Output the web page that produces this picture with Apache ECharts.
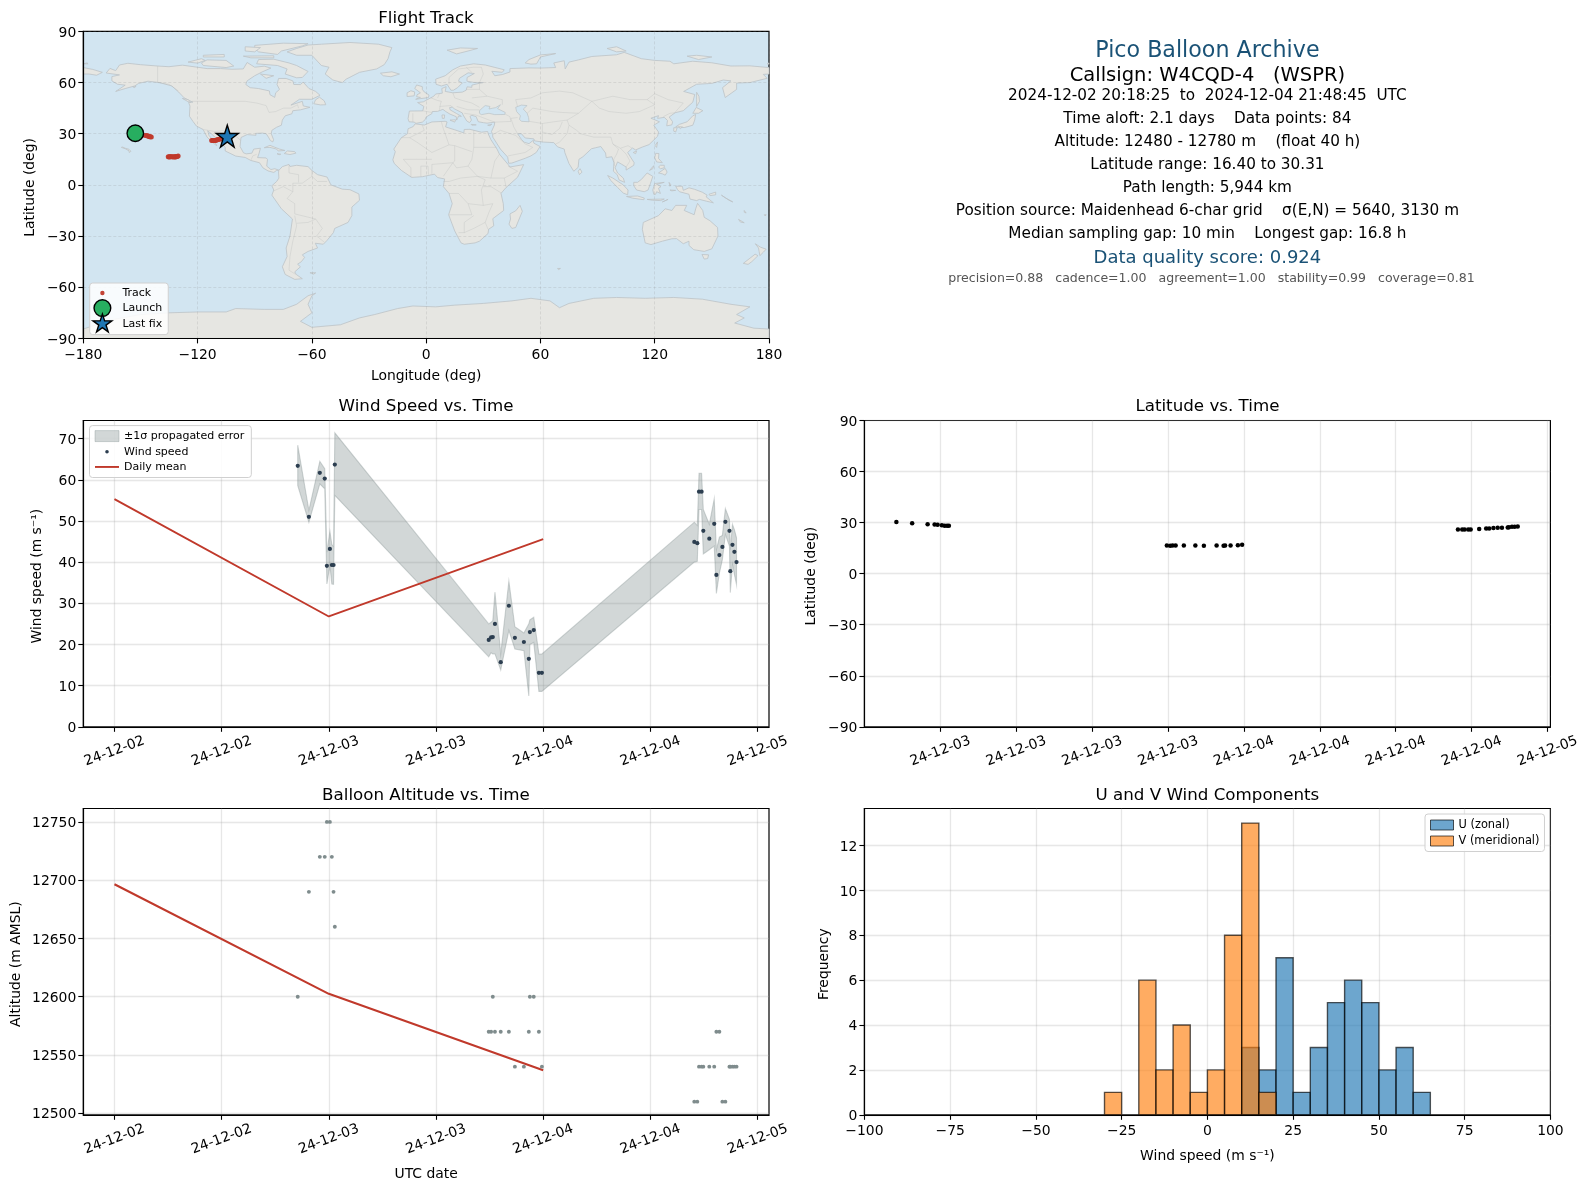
<!DOCTYPE html>
<html><head><meta charset="utf-8">
<style>html,body{margin:0;padding:0;background:#fff}#c{width:1589px;height:1189px}</style>
<script src="https://cdn.jsdelivr.net/npm/echarts@6/dist/echarts.min.js"></script>
</head><body><div id="c"></div>
<script>
// ---------- data (days since 2024-12-02 00:00 UTC) ----------
const windDays=[0.855,0.907,0.958,0.981,0.991,1.005,1.014,1.022,1.028,1.746,1.757,1.765,1.775,1.802,1.840,1.868,1.910,1.933,1.938,1.956,1.980,1.994,2.705,2.719,2.727,2.739,2.747,2.775,2.798,2.808,2.822,2.836,2.850,2.869,2.873,2.883,2.892,2.902];
const windSpeed=[63.4,51.0,61.7,60.3,39.1,43.2,39.3,39.3,63.7,21.1,21.7,21.8,25.0,15.7,29.4,21.6,20.6,16.5,23.0,23.5,13.1,13.1,44.9,44.6,57.1,57.1,47.6,45.7,49.3,36.9,41.7,43.7,49.8,47.6,37.8,44.2,42.5,40.0];
const windUpper=[68.4,52.6,64.5,62.7,42.4,47.5,44.3,43.8,71.4,25.0,25.4,25.8,32.7,17.7,35.4,24.3,22.8,25.0,26.0,26.6,17.7,17.7,49.7,48.9,61.6,61.6,52.8,49.2,55.4,43.0,46.1,46.5,53.0,50.4,43.0,49.2,47.9,45.9];
const windLower=[58.6,49.7,59.0,57.8,34.7,39.2,34.7,34.6,56.2,17.0,18.0,17.7,17.7,13.8,23.4,18.9,18.5,7.5,20.0,20.5,8.6,8.6,40.0,40.2,52.8,52.8,42.0,43.0,43.9,32.4,37.3,40.6,46.7,43.9,32.6,39.4,37.0,34.5];
const altitude=[12600,12690,12720,12720,12750,12750,12720,12690,12660,12570,12570,12600,12570,12570,12570,12540,12540,12570,12600,12600,12570,12540,12510,12510,12540,12540,12540,12540,12540,12570,12570,12510,12510,12540,12540,12540,12540,12540];
const latitude=[30.31,29.6,29.0,28.9,28.7,28.5,28.2,28.2,28.1,16.5,16.4,16.5,16.5,16.5,16.5,16.4,16.5,16.4,16.5,16.5,16.7,17.0,26.0,26.0,26.0,26.0,26.0,26.2,26.5,26.6,26.8,27.0,27.0,27.1,27.3,27.5,27.6,27.7];
const longitude=[-152.7,-149.8,-147.5,-146.7,-146.2,-145.7,-145.2,-144.8,-144.3,-135.4,-135.0,-134.6,-134.3,-133.8,-133.2,-132.8,-132.2,-131.8,-131.6,-131.2,-130.7,-130.2,-112.6,-112.1,-111.6,-111.2,-110.8,-110.2,-109.7,-109.2,-108.6,-108.0,-107.5,-106.8,-106.4,-105.7,-105.1,-104.5];
const meanDays=[0,1,2];
const meanWind=[55.3,26.8,45.6];
const meanAlt=[12696.5,12602.5,12537];
const launchPoint=[-152.7,30.3];
const lastFixPoint=[-104.4,27.7];
const histEdges=[-30,-25,-20,-15,-10,-5,0,5,10,15,20,25,30,35,40,45,50,55,60,65];
const histU=[0,0,0,0,0,0,0,0,3,2,7,1,3,5,6,5,2,3,1];
const histV=[1,0,6,2,4,1,2,8,13,1,0,0,0,0,0,0,0,0,0];
// ---------- ticks ----------
const lonTicks=[-180,-120,-60,0,60,120,180];
const latTicks=[-90,-60,-30,0,30,60,90];
const windTimeTicks=[0,0.5,1,1.5,2,2.5,3];
const windTimeLabels=['24-12-02','24-12-02','24-12-03','24-12-03','24-12-04','24-12-04','24-12-05'];
const latTimeTicks=[1,1.25,1.5,1.75,2,2.25,2.5,2.75,3];
const latTimeLabels=['24-12-03','24-12-03','24-12-03','24-12-03','24-12-04','24-12-04','24-12-04','24-12-04','24-12-05'];
const windTicks=[0,10,20,30,40,50,60,70];
const altTicks=[12500,12550,12600,12650,12700,12750];
const histXTicks=[-100,-75,-50,-25,0,25,50,75,100];
const histYTicks=[0,2,4,6,8,10,12];
// ---------- text ----------
const panelTitles=['Flight Track','Wind Speed vs. Time','Latitude vs. Time','Balloon Altitude vs. Time','U and V Wind Components'];
const infoLines=[
 ['Pico Balloon Archive',22.2,'#1a5276',53.5,1207.4],
 ['Callsign: W4CQD-4   (WSPR)',19.5,'#000',77,1207.4],
 ['2024-12-02 20:18:25  to  2024-12-04 21:48:45  UTC',15.25,'#000',97.3,1207.4],
 ['Time aloft: 2.1 days    Data points: 84',15.25,'#000',120.6,1207.4],
 ['Altitude: 12480 - 12780 m    (float 40 h)',15.25,'#000',143.5,1207.4],
 ['Latitude range: 16.40 to 30.31',15.25,'#000',166.6,1207.4],
 ['Path length: 5,944 km',15.25,'#000',189.8,1207.4],
 ['Position source: Maidenhead 6-char grid    σ(E,N) = 5640, 3130 m',15.25,'#000',212.8,1207.4],
 ['Median sampling gap: 10 min    Longest gap: 16.8 h',15.25,'#000',235.5,1207.4],
 ['Data quality score: 0.924',18,'#1a5276',259.5,1207.4],
 ['precision=0.88   cadence=1.00   agreement=1.00   stability=0.99   coverage=0.81',12.55,'#555',279.7,1211.5]
];
// ---------- map outlines (lon,lat) ----------
const landPolygons=[
[[-168,65.6],[-166,68.3],[-163,67],[-161,70.3],[-156.6,71.3],[-150,70.5],[-141,69.7],[-135,69.3],[-128,70.2],[-124,69.6],[-115,68.2],[-108,68.2],[-102,67.8],[-96,68],[-94,71.8],[-90,69],[-85,69.6],[-81.5,68.5],[-86,66.3],[-90,64],[-94,61],[-94.7,58.9],[-92.4,57],[-88,56.5],[-82.3,55.1],[-82,52.9],[-79.5,51.3],[-79,54],[-77,56],[-78.3,58.8],[-77.5,62.4],[-73.5,62.4],[-70,61],[-69.5,58.9],[-66,58.8],[-64.6,60.3],[-61.5,56.5],[-58,54.8],[-55.7,52.5],[-60,50.2],[-66.5,50.2],[-71,46.8],[-65,49],[-64.5,46.3],[-61,45.5],[-66,44],[-70,43.5],[-70.5,41.7],[-74,40.5],[-75.5,38],[-76,35],[-78.5,33.8],[-81,32],[-81.3,30],[-80.1,26.5],[-80.5,25.2],[-81.8,26],[-82.8,28],[-84,30],[-86,30.4],[-89.5,30.2],[-89.3,29.1],[-94,29.5],[-97.2,27.8],[-97.7,22.5],[-95.9,18.8],[-94.5,18.2],[-91.5,18.6],[-90.5,21],[-87,21.5],[-87.8,18.2],[-88.5,16],[-84,15.8],[-83.3,14.9],[-83.7,11],[-81.5,9],[-79.5,9.5],[-77.3,8.6],[-78.5,8.5],[-80,7.3],[-83,8.2],[-85.7,10],[-87.5,13],[-92,14.3],[-95,16.1],[-100,16.9],[-105.5,19.9],[-105.5,22],[-109,26],[-112.8,30],[-114.7,31.7],[-114,29],[-110,23.5],[-110,23],[-112,24.8],[-115,28],[-117.1,32.5],[-120.6,34.5],[-122.4,37.2],[-124.3,40.3],[-124,46.2],[-124.7,48.4],[-122.5,48.5],[-127,51],[-130,54.5],[-133.5,58],[-140,60],[-146,60.8],[-151,59.5],[-153,58],[-158,56.5],[-163,54.8],[-158,58.5],[-162,59],[-165,61],[-165,63.5],[-161,64.5]],
[[-77.3,8.6],[-75.5,10.7],[-72,12],[-71.5,10.8],[-68,11.5],[-62,10.7],[-60,8.5],[-57,6],[-52,4.6],[-50,0],[-44,-2.5],[-40,-2.8],[-35.3,-5.3],[-35,-9],[-39,-13],[-39,-18],[-41,-22],[-48,-25.5],[-48.7,-28],[-52,-32.5],[-54,-34.8],[-58.2,-34.2],[-57,-37],[-62,-39],[-65,-41],[-63.8,-42.5],[-65.5,-45],[-67.5,-46.5],[-66,-48],[-69,-51],[-68.2,-52.5],[-65,-55],[-69,-55.4],[-74,-52.5],[-75.5,-48],[-73,-42],[-73.5,-37],[-71.5,-30],[-70.2,-20],[-76,-14],[-81,-6],[-80,-3],[-81,-0.5],[-78.5,2],[-77.3,4],[-77.5,7.5]],
[[-5.8,35.8],[-1,35.1],[3,36.9],[10,37.3],[11,36.9],[10.2,34],[15,32.3],[19.8,30.5],[20,32.5],[23,32.6],[29,30.9],[32.3,31.3],[32.6,29.9],[34,26.5],[37.2,21],[38.5,18],[43,12],[44,10.5],[51.2,11.9],[48,4.5],[42,-1.5],[39.3,-5],[40.5,-11],[40.7,-15],[35,-19.8],[35.5,-24],[32.8,-26],[32.5,-28.5],[28,-33],[25.7,-34],[20,-34.8],[18.3,-34],[15,-27],[11.8,-17.5],[13.7,-11],[12,-5],[9,-1],[9.7,3.5],[6,4.3],[4.4,6.3],[-2,4.8],[-7.6,4.4],[-13,8.5],[-16.7,12.5],[-17.5,14.7],[-16.2,19.5],[-17,21],[-13,27.7],[-9.8,30],[-9.5,32.9],[-6.8,34.2]],
[[-9,37],[-9.5,38.8],[-8.8,43.3],[-1.8,43.4],[-1.2,46],[-4.5,48.3],[-1.5,48.7],[1.5,50.5],[4,52],[5,53.3],[8.5,53.8],[8.2,56.5],[10.5,57.6],[10,54.8],[14,54],[19,54.4],[21,55.5],[21.5,57.5],[24,57.2],[24,58.5],[28,59.6],[30,60],[25,60.1],[21.4,60.8],[21.5,63],[25.3,65.3],[22,65.7],[17.5,62.5],[17,60.8],[19,59.8],[16.5,57],[14.3,55.5],[13,55.5],[11,59],[8,58],[5.2,59],[5,62],[10,64],[14,67.5],[18,69.7],[25,71],[31,70.3],[41,67.5],[40,66],[34.5,66.6],[36,64],[40,64.7],[44,66.2],[44,68.2],[54,68.6],[60,68.5],[68,68.8],[67,71.5],[72.5,72.8],[73,68],[75,72],[80,73.3],[87,75.3],[100,76.3],[104,77.7],[113,74],[120,73],[128,72.5],[130,71],[140,72.5],[150,71.6],[160,69.7],[170,69.8],[180,68.8],[180,65],[177,64.8],[179,62.5],[170,60],[163,59.7],[163,56],[157,51.2],[155.6,57],[160,61],[156,61.5],[150,59.5],[142,59],[135.2,54.8],[141,53],[140,48.5],[135,43.5],[130.7,42.3],[127.6,39.8],[129.4,37],[129,35.2],[126.3,34.6],[126.7,37.8],[125,39.6],[121.5,39],[122,40.6],[118,39.1],[122.5,37],[119.5,35],[122,31],[121.5,28.5],[117,23.6],[113.5,22.2],[110,20.5],[108.3,21.6],[105.8,19],[109.2,13],[109,11.5],[105,8.7],[105,10.5],[102.5,12.2],[100.5,13.5],[99.2,10],[100.5,7],[103.5,4],[104.2,1.5],[101.3,2.9],[100.3,6],[98.3,8],[98.6,13],[97.5,16.5],[94.5,16],[94.2,18.7],[91.7,22.5],[89,21.8],[86.8,21.2],[82.3,16.5],[80.2,15],[79.8,10.3],[77.5,8],[75,12.5],[72.8,19],[72.5,21],[69,22.3],[67,24.8],[61.5,25.1],[57,25.8],[56.5,27],[52,27.5],[50,30],[48,30],[50,26.7],[51.5,25],[54,24.2],[56.3,26.2],[56.5,24.5],[59.8,22.5],[57.8,19],[55,17],[52,15.6],[45,12.8],[43.3,12.7],[42.8,16.3],[39,21],[35,28],[34.9,29.5],[34.3,31.3],[35.8,35],[36,36.8],[32,36.2],[30,36.5],[27.4,37],[26.5,39.3],[26.3,40],[24,40.8],[23,40.2],[23.8,38],[22.8,36.5],[21.3,37.5],[19.4,41],[19,42.2],[15,44.5],[13.7,45.6],[12.3,45.3],[12.6,44],[16,41.8],[18.5,40.2],[17,40.4],[16.5,39],[16,38],[15.8,40],[12.5,41.5],[10.3,43],[8.8,44.3],[6,43.1],[3.2,43],[3,41.8],[0,39.8],[-0.5,38.3],[-2,36.8],[-5.3,36.1],[-6.3,36.8]],
[[114,-22],[113.5,-26],[115,-34],[118,-35],[124,-33],[129,-31.6],[131.5,-31.5],[135,-34.5],[138,-33],[138,-35.5],[140.5,-38],[146,-39],[150,-37.5],[153.2,-30],[153,-25],[149,-21],[146,-19],[145.2,-15],[142.5,-10.8],[141.5,-14],[140.7,-17.5],[135.5,-15],[136.8,-12],[131,-12],[129,-15],[125.5,-14],[122,-18],[117,-20.5]],
[[-73,78],[-68,76],[-60,76],[-55,70],[-51,69],[-53,65],[-49,61.5],[-44,60],[-42,62],[-35,66],[-26,68],[-22,70.5],[-20,74],[-19,78],[-18,80.5],[-25,82.5],[-40,83.5],[-55,82.5],[-62,82],[-68,80]],
[[-180,-90],[-180,-84.5],[-165,-79],[-150,-76],[-135,-75],[-120,-74.5],[-105,-74.5],[-100,-72.5],[-85,-73],[-75,-73],[-68,-70],[-62,-65],[-58,-63.5],[-60,-65],[-62,-70],[-60,-75],[-66,-80],[-60,-83.5],[-45,-82],[-35,-78],[-27,-76],[-15,-72.5],[-7,-71],[5,-71.5],[15,-70.5],[30,-69.5],[45,-68],[55,-66.5],[65,-68],[70,-72],[75,-69.5],[88,-66.5],[100,-66],[115,-66.5],[130,-66],[145,-67],[160,-70],[170,-71.5],[163,-76],[167,-78],[162,-81],[172,-84],[180,-84.5],[180,-90]],
[[-80,73.7],[-72,71.5],[-68,70],[-62,66.5],[-65,63],[-68,62.8],[-74,65],[-73,68],[-78,70],[-89,71],[-88,73.5]],
[[-117,70],[-105,68.8],[-101,69.7],[-105,73],[-115,73.3],[-118,71.5]],
[[-125,72],[-118,74],[-116,73],[-120,71.4]],
[[-90,80],[-88,78],[-78,76.5],[-76,78.5],[-65,81.5],[-62,82.8],[-75,83.1],[-90,81.8]],
[[-96,75.5],[-80,75.7],[-80,74.5],[-92,74.5]],[[-117,76],[-106,76.5],[-106,75],[-117,75]],[[-95,81],[-87,80.5],[-90,78],[-95,78.5]],
[[-87,65],[-80,64],[-84,62.5]],
[[-59,47.6],[-55.5,46.9],[-52.7,47],[-53.5,49.3],[-56,51.4],[-58,50]],
[[-85,21.8],[-82,23.2],[-77,21],[-74.2,20.2],[-77.7,19.9],[-78.5,21],[-82,22]],
[[-74.5,18.4],[-72.8,19.9],[-69,19.5],[-68.4,18.6],[-71.5,17.8]],
[[-78.3,18.3],[-76.3,18],[-77.2,17.7]],
[[-24,65.5],[-18,66.3],[-14,65],[-18.5,63.4],[-22.5,64]],
[[-5.5,50.2],[1.2,51.2],[1.5,52.7],[-1,54.5],[-2,56],[-2,57.6],[-5,58.6],[-6,56.5],[-3,54],[-4.8,52.8],[-5,51.7],[-3,51.3]],
[[-10,51.8],[-6.3,52.2],[-6,54.5],[-8,55.2],[-10,54]],
[[11,79],[16,76.8],[22,78.5],[27,80],[18,80.3]],
[[52,71.5],[55,70.8],[58,71],[60,75],[68,77],[60,76.2],[54,73.5]],
[[142,54.3],[143.2,52],[143.5,49],[142,46],[142,50]],
[[140,42],[141.8,45.4],[145.3,43.5],[143,42]],
[[131,34],[135.5,33.6],[140,35],[141,38],[141.5,41.3],[140,40.5],[137,37],[133,35.5]],
[[130,33.5],[131.8,33.5],[131,31],[130,31.5]],[[132.5,34],[134.5,34],[133.5,33]],
[[120.2,23],[121.5,25.2],[121,22]],[[108.7,19],[110.5,20],[110,18.3]],
[[79.8,8],[80.8,9.5],[81.8,7.5],[80.5,6]],
[[120,16],[120.5,18.5],[122.2,18.4],[122,15.5],[124,13],[121,13.5]],
[[122,7],[125.5,9.7],[126.5,7.5],[125.5,5.7],[124,6.5]],
[[122,10.5],[123,11.5],[125,11.5],[125,10],[123,9.5]],[[117.3,8.5],[119.5,11.3],[119,9.5]],
[[109,1.5],[111,1.5],[113,3.2],[116,7],[119,5],[117.8,1],[116.5,-3],[114.5,-4],[110.5,-3],[109,-0.5]],
[[95.3,5.5],[98,4],[103.5,0],[106,-3],[105.8,-5.8],[103.5,-4.8],[100.5,-1.5],[97,2.5]],
[[105.2,-6.8],[108.5,-6.6],[111,-6.5],[114.5,-7.7],[114.3,-8.7],[108.5,-7.8]],
[[119.5,-5.5],[119,-3],[120,0.8],[125,1.5],[121,0.3],[123.3,-1],[122,-2],[123,-5],[121,-4],[120.5,-5.5]],
[[116,-8.5],[120,-8.4],[125,-8.3],[123,-9.2],[119,-9]],[[124,-10],[127,-8.5],[125,-9.5]],[[127.5,1.5],[128.5,0],[128,-0.8]],[[128,-3],[131,-3.2],[129,-3.5]],
[[131,-0.8],[134.5,-0.8],[135,-3.2],[138,-1.7],[141,-2.6],[145,-4.3],[147.5,-6],[147,-7],[150.8,-10.5],[147,-9.5],[143.5,-8.5],[142,-9.2],[138.5,-8.3],[138,-5.5],[133,-4],[132,-2.8]],
[[148.5,-5.5],[152,-4.2],[152,-5.8],[149,-6.3]],[[155,-6],[157,-7.5],[161,-10],[159,-9]],[[167,-15],[168,-16.5],[167,-16]],[[164,-20.2],[167,-22.2],[165,-21.8]],[[177.5,-17.5],[178.5,-17.5],[178,-18.2]],
[[144.8,-40.8],[148.3,-41],[147.8,-43.2],[146,-43.5]],
[[172.8,-34.5],[175.5,-36.5],[178.5,-37.7],[177,-39.5],[175.2,-41.5],[174.8,-39],[174.5,-37]],
[[172.7,-40.6],[174.2,-41.5],[171,-45],[169,-46.6],[166.5,-46],[170,-43]],
[[49.3,-12],[50.5,-15.5],[47,-25],[45,-25.5],[43.5,-23],[44.3,-20],[44,-17],[47,-15.2]],
[[69,-49],[70.5,-49],[69.5,-49.7]],[[-61,-51.5],[-58,-51.5],[-59,-52.3]],
[[-160,22],[-159.3,22.2],[-158,21.5],[-156,20.9],[-155,19.7],[-155.9,19],[-156,20],[-158,21.2]],
[[12.5,38],[15.5,38.2],[15,36.8]],[[8.3,41],[9.7,41],[9.5,39],[8.5,39]],[[23.6,35.5],[26.3,35.2],[24,35]],[[32.3,35],[34.5,35.6],[33.5,34.7]],
[[95,80],[100,81],[105,78.5],[100,78]],[[137,75.5],[142,76],[150,75],[143,73.5]],[[179,71],[180,71.5],[180,70.8]],
[[-180,68.8],[-175,67.7],[-170,66],[-173,64.3],[-177,65],[-180,65]],[[-180,71],[-178,71.5],[-177.5,71]],
[[-154,57.5],[-152.3,58],[-153,57]],[[-128,50.7],[-125,50],[-123.5,48.4],[-125,48.8]]
];
const waterPolygons=[
[[28,42],[28,43.5],[29.7,45.3],[31,46.5],[33.5,46],[33,44.5],[35,45],[36.5,45.3],[39,47],[37.5,44.7],[41.5,42.5],[41.3,41.3],[36,41.2],[33,42],[29,41.2]],
[[47,45.5],[50,46.8],[53,46.5],[51,44.5],[53,42],[53.8,39.5],[54,37],[50,37.3],[49,38.5],[49.5,40.5],[47.5,43]]
];
const borderLines=[
[[-123,49],[-95,49],[-89,48],[-84,46.5],[-82.5,42.5],[-79,43],[-75,45],[-71,45],[-67.5,47],[-67,45]],[[-141,69.7],[-141,60],[-135,59],[-130,55]],
[[-117,32.5],[-111,31.3],[-106.5,31.8],[-103,29],[-101,29.7],[-97.3,26]],[[-92,14.5],[-91,17],[-89,17.9]],
[[-60,5],[-65,1],[-70,1],[-70,-4],[-73,-8],[-69,-11],[-69,-17],[-58,-20],[-54.5,-25.5],[-57.5,-30],[-53.5,-33.5]],[[-69,-18],[-68,-24],[-70,-33],[-71.5,-42],[-72,-50],[-68.5,-52.5]],[[-68,-22.5],[-62,-22],[-58,-20]],[[-72,11.5],[-72,7],[-67,6],[-67,1.5]],[[-80,-3.5],[-75,-1],[-70,-4]],[[-60,8.5],[-60,5],[-57,2],[-52,2]],
[[-13,27.7],[-8.7,27.7]],[[-2,35],[-1,32],[-8.7,27.7],[-4.8,25],[3,19],[12,23.5],[10,30],[9,33],[8,37]],[[25,32],[25,22],[37,22]],[[25,22],[24,15],[22,11],[27,5],[34,4],[36,14],[38.5,18]],[[15,23],[24,19.5]],[[12,23.5],[15,23],[15,14],[14,13],[16,10],[22,11]],[[3,6.5],[3,12],[14,13]],[[14,13],[9,5]],[[-12,15],[-5,15],[3,15]],[[-8,4.5],[-8,10],[-12,15]],[[-2.8,5],[-2.8,11],[1,11],[1.2,6]],[[12,-5],[17,-5],[22,-11],[30,-12],[29,-3],[31,3],[27,5],[18,4],[12,2],[9,2]],[[12,-17.5],[24,-17.5],[22,-11]],[[17,-28],[20,-28],[20,-22],[25,-18]],[[20,-28],[25,-25.5],[31,-22],[32.5,-26]],[[35,-11],[30,-12]],[[35,-11],[33,-16],[31,-22]],[[30,-1],[34,-1],[39.5,-4.8]],[[34,4],[41,4],[42,-1.5]],[[41,4],[48,8],[43,11]],
[[28,60],[28,56],[32,52],[40,50],[40,47]],[[48,46],[47,50],[55,51],[61,54],[70,55],[77,54],[83,51],[87,49]],[[53,42],[56,45],[66,43],[71,42.5],[80,42],[83,45],[87,49]],[[87,49],[98,52],[107,50],[116,50],[120,47],[112,43],[105,42],[96,43],[91,45],[87,49]],[[116,50],[120,53.5],[127,50],[135,48],[131,43],[130.7,42.3]],[[74,38],[80,42]],[[74,38],[75,35],[79,32],[81,30],[88,28],[97,28],[98,24],[102,21.5],[106,23],[108,21.6]],[[75,35],[74,30],[70,25],[68,24]],[[61,25],[61,31],[61,36],[54,37.3]],[[48,30],[46,34],[44.5,39],[48,39.5]],[[61,36],[67,37],[74,38]],[[61,31],[66,29.5],[70,33],[71.5,37]],[[26,41],[36,36.8],[44.5,37.2],[44,40],[41.5,41.5]],[[35,29.5],[39,32],[47,29],[52,24],[56,22],[52,19],[43,17]],[[98,24],[101,21],[100,18],[98.5,15],[99,11]],[[102,21.5],[105,18],[107,14],[105,10.5]],[[124.5,40],[128,42],[130.7,42.3]],
[[-1.8,43.4],[3,42.5]],[[-7,42],[-7,37]],[[2.5,51],[6,49.5],[8,49],[7.5,47.5],[7,44]],[[14,54],[15,51],[19,49.5],[24,48]],[[6,51],[7,53.5]],[[7,46],[13,46.5],[13.7,45.6]],[[16,46],[22,44],[28,44]],[[24,48],[28,45.5]],[[20,42],[26,41]],[[24,51],[32,52]],[[28,56],[21,56]],[[28,60],[30,65],[29,69]],[[12,59],[12,63],[17,68],[25,69],[29,69]],[[21,69],[24,66]]
];
// ---------- helpers ----------
const FONT='"DejaVu Sans"';
const STARPATH='M50,5L60.1,36.1L92.8,36.1L66.4,55.3L76.5,86.4L50,67.2L23.5,86.4L33.6,55.3L7.2,36.1L39.9,36.1Z';
const minus=v=>String(v).replace('-','\u2212');
const GRID_COLOR='rgba(170,170,170,.28)';
const grids=[
 {left:83.3,top:31.4,width:685.7,height:307,show:true,borderColor:'#000',borderWidth:1.2,backgroundColor:'#d2e5f1'},
 {left:83.3,top:420.5,width:685.7,height:306.3,show:true,borderColor:'#000',borderWidth:1.2,backgroundColor:'#fff'},
 {left:864.4,top:420.5,width:686,height:306.3,show:true,borderColor:'#000',borderWidth:1.2,backgroundColor:'#fff'},
 {left:83.3,top:808.5,width:685.7,height:306.3,show:true,borderColor:'#000',borderWidth:1.2,backgroundColor:'#fff'},
 {left:864.4,top:808.5,width:686,height:306.3,show:true,borderColor:'#000',borderWidth:1.2,backgroundColor:'#fff'}
];
const yNameStyle={color:'#000',fontFamily:FONT,fontSize:13.9,padding:[0,5,0,0]};
function axis(gridIndex,min,max,ticks,extra){
 const e=extra||{};
 return Object.assign({type:'value',gridIndex,min,max,scale:true,
  axisLine:{show:true,onZero:false,lineStyle:{color:'#000',width:1.2}},
  axisTick:{show:true,length:5,inside:false,customValues:ticks,lineStyle:{color:'#000',width:1.1}},
  axisLabel:Object.assign({show:true,customValues:ticks,color:'#000',fontFamily:FONT,fontSize:13.9,margin:10,formatter:minus,hideOverlap:false,showMinLabel:true,showMaxLabel:true},e.label||{}),
  splitLine:Object.assign({show:true,lineStyle:{color:GRID_COLOR,width:1.3}},e.split||{}),
  nameTextStyle:{color:'#000',fontFamily:FONT,fontSize:13.9}
 },e.rest||{});
}
function yAxisOf(g,min,max,ticks,nm,gap,extra){
 const e=extra||{};
 return axis(g,min,max,ticks,{split:e.split,label:{margin:7,verticalAlign:'top',lineHeight:3},rest:Object.assign({name:nm,nameLocation:'middle',nameGap:gap,nameTextStyle:yNameStyle},e.rest||{})});
}
function timeAxis(g,min,max,ticks,labels,rest){
 return axis(g,min,max,ticks,{label:{rotate:20,align:'center',verticalAlign:'top',margin:17,padding:[0,5,0,0],formatter:v=>labels[ticks.indexOf(v)]},rest});
}
const mapSplit={lineStyle:{color:'rgba(128,128,128,.2)',width:0.9,type:[3,2]}};
const panelTitleCenters=[426,426,1207.4,426,1207.4];
const panelTitleTops=[10.2,398.3,398.3,787.5,787.5];
const titles=panelTitles.map((t,i)=>({text:t,left:panelTitleCenters[i],top:panelTitleTops[i],textAlign:'center',padding:0,textStyle:{fontFamily:FONT,fontSize:16.7,fontWeight:'normal',color:'#000'}}))
 .concat(infoLines.map(l=>({text:l[0],left:l[4],top:l[3]-l[1]*0.58,textAlign:'center',padding:0,textStyle:{fontFamily:FONT,fontSize:l[1],fontWeight:'normal',color:l[2]}})));
function polyRender(list,style,closed){
 return function(params,api){
  const pts=list[api.value(2)].map(p=>api.coord(p));
  return {type:closed?'polygon':'polyline',shape:{points:pts},style:style,silent:true};
 };
}
const idx=list=>list.map((p,i)=>[p[0][0],p[0][1],i]);
function histSeries(name,counts,fill,g){
 const data=counts.map((c,i)=>[histEdges[i],histEdges[i+1],c]).filter(d=>d[2]>0);
 return {name,type:'custom',coordinateSystem:'cartesian2d',xAxisIndex:g,yAxisIndex:g,z:3,clip:true,encode:{x:[0,1],y:2},data,
  itemStyle:{color:fill},
  renderItem(params,api){
   const a=api.coord([api.value(0),api.value(2)]),b=api.coord([api.value(1),0]);
   return {type:'rect',shape:{x:a[0],y:a[1],width:b[0]-a[0],height:b[1]-a[1]},style:{fill:fill,stroke:'rgba(0,0,0,.65)',lineWidth:1.4}};
  }};
}
const series=[
 {name:'land',type:'custom',coordinateSystem:'cartesian2d',xAxisIndex:0,yAxisIndex:0,z:1,clip:true,silent:true,data:idx(landPolygons),renderItem:polyRender(landPolygons,{fill:'#e6e6e2',stroke:'#bcc3c6',lineWidth:0.8},true)},
 {name:'water',type:'custom',coordinateSystem:'cartesian2d',xAxisIndex:0,yAxisIndex:0,z:1.1,clip:true,silent:true,data:idx(waterPolygons),renderItem:polyRender(waterPolygons,{fill:'#d2e5f1',stroke:'#bcc3c6',lineWidth:0.7},true)},
 {name:'borders',type:'custom',coordinateSystem:'cartesian2d',xAxisIndex:0,yAxisIndex:0,z:1.2,clip:true,silent:true,data:idx(borderLines),renderItem:polyRender(borderLines,{fill:'none',stroke:'rgba(180,184,184,.5)',lineWidth:0.6},false)},
 {name:'Track',type:'scatter',xAxisIndex:0,yAxisIndex:0,z:5,symbolSize:5,itemStyle:{color:'#c0392b',opacity:.95},data:longitude.map((v,i)=>[v,latitude[i]])},
 {name:'Launch',type:'scatter',xAxisIndex:0,yAxisIndex:0,z:6,symbol:'circle',symbolSize:16.5,itemStyle:{color:'#27ae60',borderColor:'#000',borderWidth:1.4,opacity:1},data:[launchPoint]},
 {name:'Last fix',type:'scatter',xAxisIndex:0,yAxisIndex:0,z:7,symbol:'path://'+STARPATH,symbolSize:22,symbolOffset:[0,-1.5],itemStyle:{color:'#1f77b4',borderColor:'#000',borderWidth:1.4,opacity:1},data:[lastFixPoint]},

 {name:'\u00b11\u03c3 propagated error',type:'custom',coordinateSystem:'cartesian2d',xAxisIndex:1,yAxisIndex:1,z:2,clip:true,encode:{x:0,y:[1,2]},
  itemStyle:{color:'rgba(127,140,141,.35)'},
  data:windDays.map((d,i)=>[d,windUpper[i],windLower[i]]),
  renderItem(params,api){
   if(params.dataIndex!==0) return null;
   const up=windDays.map((d,i)=>api.coord([d,windUpper[i]]));
   const lo=windDays.map((d,i)=>api.coord([d,windLower[i]])).reverse();
   return {type:'polygon',shape:{points:up.concat(lo)},style:{fill:'rgba(127,140,141,.35)',stroke:'rgba(127,140,141,.35)',lineWidth:1.1}};
  }},
 {name:'Wind speed',type:'scatter',xAxisIndex:1,yAxisIndex:1,z:4,symbolSize:4.2,itemStyle:{color:'#2c3e50',opacity:1},data:windDays.map((d,i)=>[d,windSpeed[i]])},
 {name:'Daily mean',type:'line',xAxisIndex:1,yAxisIndex:1,z:3,showSymbol:false,lineStyle:{color:'#c0392b',width:1.9},itemStyle:{color:'#c0392b'},data:meanDays.map((d,i)=>[d,meanWind[i]])},

 {name:'Latitude',type:'scatter',xAxisIndex:2,yAxisIndex:2,z:4,symbolSize:4.5,itemStyle:{color:'#000',opacity:1},data:windDays.map((d,i)=>[d,latitude[i]])},

 {name:'Altitude',type:'scatter',xAxisIndex:3,yAxisIndex:3,z:4,symbolSize:3.9,itemStyle:{color:'#7f8c8d',opacity:1},data:windDays.map((d,i)=>[d,altitude[i]])},
 {name:'Altitude daily mean',type:'line',xAxisIndex:3,yAxisIndex:3,z:3,showSymbol:false,lineStyle:{color:'#c0392b',width:2.1},itemStyle:{color:'#c0392b'},data:meanDays.map((d,i)=>[d,meanAlt[i]])},

 histSeries('U (zonal)',histU,'rgba(31,119,180,.65)',4),
 histSeries('V (meridional)',histV,'rgba(255,127,14,.65)',4)
];
const legendBase={selectedMode:false,orient:'vertical',backgroundColor:'rgba(255,255,255,.85)',borderColor:'#d0d0d0',borderWidth:1,borderRadius:3,textStyle:{fontFamily:FONT,fontSize:11,color:'#000',padding:0}};
const DOT='path://M0,0M100,100M50,40A10,10 0 1,1 49.99,40Z';
const BIGC='path://M0,0M100,100M50,12A38,38 0 1,1 49.99,12Z';
const STAR='path://M0,0M100,100'+STARPATH;
const LINE='path://M0,0M240,110M0,45H240V64H0Z';
const WDOT='path://M0,0M240,110M120,37A18,18 0 1,1 119.99,37Z';
const option={
 animation:false,backgroundColor:'#fff',textStyle:{fontFamily:FONT},
 title:titles,
 grid:grids,
 legend:[
  Object.assign({},legendBase,{left:89.7,top:283,itemWidth:30,itemHeight:22,itemGap:-7.6,padding:[-1,6,-1,1],itemStyle:{borderWidth:0},
   data:[{name:'Track',icon:DOT,itemStyle:{color:'#c0392b',borderWidth:0}},
         {name:'Launch',icon:BIGC,itemStyle:{color:'#27ae60',borderColor:'#000',borderWidth:1.4}},
         {name:'Last fix',icon:STAR,itemStyle:{color:'#1f77b4',borderColor:'#000',borderWidth:1.4}}]}),
  Object.assign({},legendBase,{left:89.5,top:425.6,itemWidth:24,itemHeight:11,itemGap:4.2,padding:[4.5,7,5,5],
   data:[{name:'\u00b11\u03c3 propagated error',icon:'rect',itemStyle:{color:'rgba(127,140,141,.35)',borderColor:'rgba(127,140,141,.35)',borderWidth:1}},
         {name:'Wind speed',icon:WDOT,itemStyle:{color:'#2c3e50',borderWidth:0}},
         {name:'Daily mean',icon:LINE,itemStyle:{color:'#c0392b',borderWidth:0}}]}),
  Object.assign({},legendBase,{left:1425,top:814,itemWidth:23,itemHeight:10,itemGap:5,padding:[5.5,5,5,5],textStyle:{fontFamily:FONT,fontSize:11.4,color:'#000',padding:0},
   data:[{name:'U (zonal)',icon:'rect',itemStyle:{color:'rgba(31,119,180,.65)',borderColor:'rgba(0,0,0,.65)',borderWidth:1}},
         {name:'V (meridional)',icon:'rect',itemStyle:{color:'rgba(255,127,14,.65)',borderColor:'rgba(0,0,0,.65)',borderWidth:1}}]})
 ],
 xAxis:[
  axis(0,-180,180,lonTicks,{split:mapSplit,rest:{z:3,name:'Longitude (deg)',nameLocation:'middle',nameGap:31}}),
  timeAxis(1,-0.1454,3.0535,windTimeTicks,windTimeLabels),
  timeAxis(2,0.7497,3.0096,latTimeTicks,latTimeLabels),
  timeAxis(3,-0.1454,3.0535,windTimeTicks,windTimeLabels,{name:'UTC date',nameLocation:'middle',nameGap:53}),
  axis(4,-100,100,histXTicks,{rest:{name:'Wind speed (m s\u207b\u00b9)',nameLocation:'middle',nameGap:35}})
 ],
 yAxis:[
  yAxisOf(0,-90,90,latTicks,'Latitude (deg)',46,{split:mapSplit,rest:{z:3}}),
  yAxisOf(1,0,74.4,windTicks,'Wind speed (m s\u207b\u00b9)',39),
  yAxisOf(2,-90,90,latTicks,'Latitude (deg)',46),
  yAxisOf(3,12498.7,12761.5,altTicks,'Altitude (m AMSL)',60),
  yAxisOf(4,0,13.65,histYTicks,'Frequency',33)
 ],
 series
};
const chart=echarts.init(document.getElementById('c'),null,{renderer:'canvas',width:1589,height:1189});
chart.setOption(option);
</script></body></html>
